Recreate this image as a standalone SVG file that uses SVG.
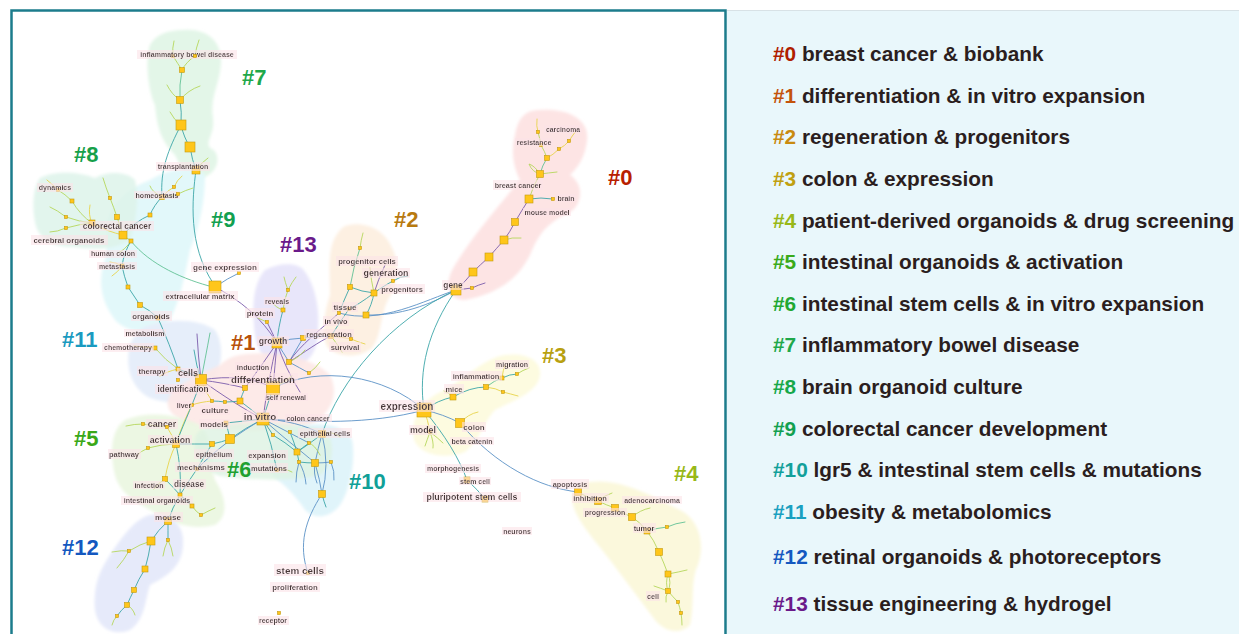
<svg xmlns="http://www.w3.org/2000/svg" width="1239" height="634" viewBox="0 0 1239 634">
<defs>
<style>
.e{fill:none;stroke-width:0.9;stroke-linecap:round}
.t{stroke:#3CA6A8}.b{stroke:#5B92C6}.p{stroke:#7C5CAC}.y{stroke:#E8D44C}.g{stroke:#B6D75C}.m{stroke:#62C295}
.nd rect{fill:#FFC61A;stroke:#C49A10;stroke-width:0.6}
.lb{font-family:"Liberation Sans",Arial,sans-serif;font-weight:bold;fill:#463838;text-anchor:middle;dominant-baseline:central;filter:url(#bg)}
.cl{font-family:"Liberation Sans",Arial,sans-serif;font-weight:bold;font-size:22px}
.lg{font-family:"Liberation Sans",Arial,sans-serif;font-weight:bold;font-size:20.8px;fill:#2B1E1E}
#hulls path{filter:url(#soft)}
</style>
<filter id="bg" x="-0.03" y="0" width="1.06" height="1"><feFlood flood-color="#FBE3E8" flood-opacity="0.6"/><feComposite in="SourceGraphic" operator="over"/></filter>
<filter id="soft" x="-0.1" y="-0.1" width="1.2" height="1.2"><feGaussianBlur stdDeviation="1.5"/></filter>
</defs>
<rect x="0" y="0" width="1239" height="634" fill="#FFFFFF"/>
<rect x="727" y="10" width="512" height="624" fill="#E9F7FB"/>
<path d="M727,10.5 H1239" stroke="#D8E2E6" stroke-width="1" fill="none"/>
<path d="M11.5,634 V10.5 H725.5 V634" fill="none" stroke="#1C7C8C" stroke-width="2.5"/>

<g id="hulls">
<path id="hull-7" fill="#E3F6E8" d="M183,30 C205,28 222,40 221,62 C220,85 210,95 213,118 C215,135 205,140 210,148 C222,152 220,175 200,178 C185,178 180,165 175,155 C160,140 157,125 155,105 C148,90 145,60 150,45 C155,35 168,30 183,30 Z"/>
<path id="hull-9" fill="#E2F8FA" d="M150,180 C170,168 195,165 205,175 C205,200 200,225 190,250 C185,275 180,300 170,320 C155,335 130,335 115,320 C100,300 98,280 105,260 C110,240 100,225 115,205 C125,192 135,186 150,180 Z"/>
<path id="hull-8" fill="#DDF3EA" fill-opacity="0.85" d="M40,178 C55,170 80,172 95,178 C105,172 125,170 135,180 C140,200 135,225 130,240 C115,250 95,250 75,247 C55,248 38,240 35,222 C32,205 33,188 40,178 Z"/>
<path id="hull-0" fill="#FDE4E4" d="M540,110 C565,108 590,118 587,140 C585,160 575,170 570,175 C585,185 582,205 570,212 C550,222 540,230 530,255 C515,285 490,295 465,300 C445,300 445,280 455,265 C470,240 495,210 520,180 C515,170 510,155 515,135 C518,118 525,110 540,110 Z"/>
<path id="hull-2" fill="#FDF0E2" d="M345,226 C365,220 385,230 392,248 C400,262 398,285 388,300 C380,315 382,335 372,348 C360,358 340,358 328,348 C320,335 325,310 330,295 C330,275 328,260 332,245 C335,235 340,229 345,226 Z"/>
<path id="hull-13" fill="#E8E6FA" d="M265,270 C280,262 300,262 305,272 C315,285 320,310 318,330 C318,350 310,365 290,368 C270,368 258,355 255,335 C252,310 252,285 265,270 Z"/>
<path id="hull-11" fill="#E6EEFA" d="M150,325 C175,318 200,320 215,330 C225,345 222,370 210,390 C195,405 170,405 150,398 C130,388 125,365 130,345 C135,333 140,328 150,325 Z"/>
<path id="hull-1" fill="#FDE8E6" fill-opacity="0.9" d="M240,355 C270,350 310,355 330,375 C340,395 330,415 310,425 C280,432 240,432 210,428 C185,425 165,415 168,400 C172,385 200,375 220,365 C228,358 234,356 240,355 Z"/>
<path id="hull-5" fill="#EAF6E0" fill-opacity="0.9" d="M125,420 C150,410 180,415 200,425 C215,440 210,465 215,480 C225,495 230,515 215,525 C195,530 175,525 160,515 C140,505 120,495 115,475 C110,455 110,430 125,420 Z"/>
<path id="hull-10" fill="#E0F4FA" d="M290,428 C320,420 345,425 352,440 C356,460 350,490 340,505 C330,518 315,520 305,510 C295,495 285,485 275,478 C265,468 268,448 275,438 C280,432 285,430 290,428 Z"/>
<path id="hull-6" fill="#DDF2E2" fill-opacity="0.8" d="M205,428 C240,420 290,422 325,430 C335,440 335,465 320,475 C290,482 250,480 220,476 C200,470 192,450 195,438 C197,432 200,430 205,428 Z"/>
<path id="hull-12" fill="#E6EAFA" d="M150,515 C170,512 185,525 183,545 C182,565 170,575 150,585 C145,600 145,620 130,630 C115,636 98,630 95,610 C93,585 100,570 110,555 C120,540 135,518 150,515 Z"/>
<path id="hull-3" fill="#FDFBE0" d="M505,355 C525,352 542,360 540,375 C538,392 515,400 495,410 C485,420 480,440 465,452 C445,460 420,455 414,440 C410,420 420,400 445,390 C465,378 485,358 505,355 Z"/>
<path id="hull-4" fill="#FBF8DC" d="M590,482 C620,478 650,495 680,510 C700,520 705,545 698,565 C690,580 695,605 690,625 C680,635 665,632 655,620 C640,600 625,580 610,560 C595,540 575,520 572,500 C572,488 580,483 590,482 Z"/>
</g>

<g id="connectors">
<path class="e g" d="M173,56 Q172,48 174,41"/><path class="e g" d="M195,56 Q196,48 199,40"/>
<path class="e g" d="M173,56 Q178,64 182,70"/><path class="e g" d="M195,56 Q186,62 182,70"/>
<path class="e m" d="M182,70 Q179,85 180,100"/><path class="e g" d="M180,100 Q172,95 167,85"/>
<path class="e g" d="M180,100 Q188,90 200,86"/><path class="e t" d="M180,100 Q182,112 181,125"/>
<path class="e g" d="M181,125 Q174,120 170,112"/><path class="e t" d="M181,125 Q184,138 190,147"/>
<path class="e t" d="M190,147 Q192,160 196,170"/><path class="e g" d="M196,170 Q202,162 208,158"/>
<path class="e t" d="M196,170 C192,200 188,245 213,283"/><path class="e t" d="M181,125 C168,150 160,170 162,197"/>
<path class="e y" d="M162,197 Q168,190 174,187"/><path class="e y" d="M174,187 Q177,180 182,176"/>
<path class="e g" d="M162,197 Q170,196 178,194"/><path class="e g" d="M178,194 Q186,190 193,188"/>
<path class="e g" d="M162,197 Q152,192 150,186"/><path class="e t" d="M162,197 Q154,205 150,215"/>
<path class="e t" d="M150,215 Q134,222 123,235"/>
<path class="e y" d="M58,190 Q52,184 47,180"/><path class="e g" d="M58,190 Q65,194 72,201"/>
<path class="e g" d="M72,201 Q80,215 92,223"/><path class="e g" d="M66,217 Q57,210 50,207"/>
<path class="e g" d="M66,217 Q80,222 92,223"/><path class="e g" d="M66,228 Q57,232 50,232"/>
<path class="e g" d="M66,228 Q80,224 92,223"/><path class="e y" d="M90,205 Q88,215 92,223"/>
<path class="e g" d="M110,198 Q106,188 103,178"/><path class="e g" d="M110,198 Q114,208 117,217"/>
<path class="e g" d="M117,217 Q120,226 123,235"/><path class="e y" d="M92,223 Q108,232 123,235"/>
<path class="e g" d="M123,235 Q127,238 131,241"/><path class="e g" d="M131,241 Q125,250 118,253"/>
<path class="e m" d="M131,241 C150,265 185,280 213,287"/><path class="e t" d="M131,241 Q124,252 122,266"/>
<path class="e y" d="M122,266 Q116,262 110,262"/><path class="e y" d="M122,266 Q118,272 112,276"/>
<path class="e t" d="M122,266 Q124,276 128,287"/><path class="e t" d="M128,287 Q134,296 140,305"/>
<path class="e t" d="M140,305 Q150,310 158,318"/><path class="e t" d="M158,318 Q170,345 178,369"/>
<path class="e y" d="M155,348 Q144,347 134,346"/><path class="e g" d="M155,348 Q165,360 178,369"/>
<path class="e t" d="M178,369 Q190,372 201,380"/><path class="e y" d="M178,369 Q165,372 160,376"/>
<path class="e p" d="M201,380 Q198,355 197,334"/><path class="e m" d="M201,380 Q205,360 210,333"/>
<path class="e t" d="M201,380 Q196,365 194,350"/>
<path class="e b" d="M215,287 Q228,278 239,273"/><path class="e p" d="M215,287 C240,300 262,318 277,343"/>
<path class="e g" d="M288,290 Q285,282 284,277"/><path class="e g" d="M288,290 Q292,282 296,277"/>
<path class="e g" d="M288,290 Q284,300 283,310"/><path class="e t" d="M283,310 Q278,328 277,343"/>
<path class="e g" d="M283,310 Q276,308 272,302"/><path class="e p" d="M267,322 Q272,332 277,343"/>
<path class="e g" d="M267,322 Q262,320 258,318"/><path class="e b" d="M277,343 Q290,338 303,338"/>
<path class="e b" d="M277,343 Q283,352 289,362"/><path class="e b" d="M289,362 Q296,350 303,338"/>
<path class="e b" d="M303,338 Q316,336 331,336"/><path class="e p" d="M289,362 C305,352 318,342 331,336"/>
<path class="e p" d="M277,343 Q262,365 245,388"/><path class="e p" d="M277,343 Q275,365 273,388"/>
<path class="e p" d="M277,343 Q268,380 263,419"/><path class="e p" d="M277,343 Q285,368 300,392"/>
<path class="e b" d="M289,362 Q300,368 309,373"/><path class="e g" d="M309,373 Q316,368 320,362"/>
<path class="e g" d="M289,362 Q300,357 305,350"/>
<path class="e g" d="M360,248 Q361,240 363,233"/><path class="e m" d="M360,248 Q353,268 350,287"/>
<path class="e t" d="M350,287 Q362,292 374,293"/><path class="e t" d="M350,287 Q344,300 339,313"/>
<path class="e t" d="M374,293 Q385,285 393,281"/><path class="e t" d="M393,281 Q400,276 408,276"/>
<path class="e g" d="M374,293 Q371,280 370,268"/><path class="e p" d="M374,293 Q378,280 385,265"/>
<path class="e t" d="M374,293 Q372,305 366,315"/><path class="e t" d="M374,293 Q358,305 349,309"/>
<path class="e b" d="M366,315 C400,316 430,305 456,290"/><path class="e b" d="M339,313 C380,325 425,300 456,290"/>
<path class="e t" d="M349,309 Q340,322 331,336"/><path class="e p" d="M339,313 C320,330 300,345 289,362"/>
<path class="e y" d="M331,336 Q342,337 351,339"/><path class="e y" d="M351,339 Q358,342 365,344"/>
<path class="e g" d="M331,336 Q338,345 342,352"/>
<path class="e y" d="M538,132 Q536,126 537,119"/><path class="e g" d="M538,132 Q540,139 541,145"/>
<path class="e g" d="M541,145 Q545,152 547,158"/><path class="e y" d="M569,141 Q572,136 576,131"/>
<path class="e y" d="M569,141 Q565,146 559,149"/><path class="e y" d="M559,149 Q553,155 547,158"/>
<path class="e m" d="M547,158 Q542,166 540,174"/><path class="e g" d="M540,174 Q532,172 529,164 Q535,166 540,174"/>
<path class="e g" d="M540,174 Q548,173 557,172"/><path class="e g" d="M540,174 Q533,186 529,199"/>
<path class="e t" d="M529,199 Q541,197 553,199"/><path class="e p" d="M529,199 Q522,210 515,222"/>
<path class="e p" d="M515,222 Q510,232 504,240"/><path class="e g" d="M504,240 Q512,237 521,238"/>
<path class="e p" d="M504,240 Q496,249 489,257"/><path class="e p" d="M489,257 Q480,265 473,272"/>
<path class="e p" d="M473,272 Q465,282 456,290"/><path class="e p" d="M456,290 Q464,289 472,288"/>
<path class="e p" d="M472,288 Q478,285 485,283"/>
<path class="e t" d="M456,290 C428,330 418,370 424,410"/><path class="e t" d="M456,290 C390,320 340,380 322,434"/>
<path class="e b" d="M424,410 C385,375 320,365 273,388"/><path class="e b" d="M424,410 C370,425 310,422 263,419"/>
<path class="e t" d="M424,410 Q438,400 453,397"/><path class="e t" d="M453,397 Q470,387 486,387"/>
<path class="e g" d="M453,397 Q448,392 444,391"/><path class="e m" d="M486,387 Q495,380 502,378"/>
<path class="e t" d="M502,378 Q510,374 517,374"/><path class="e g" d="M517,374 Q523,370 529,368"/>
<path class="e y" d="M502,378 Q503,370 505,365"/><path class="e y" d="M486,387 Q496,388 503,392"/>
<path class="e y" d="M503,392 Q511,394 518,396"/><path class="e b" d="M424,410 Q443,414 460,423"/>
<path class="e y" d="M460,423 Q468,414 478,412"/><path class="e y" d="M424,410 Q428,420 430,432"/>
<path class="e g" d="M430,432 Q427,440 425,446"/><path class="e g" d="M430,432 Q434,442 433,448"/>
<path class="e g" d="M430,432 Q438,438 443,443"/><path class="e t" d="M424,410 C445,435 460,460 467,480"/>
<path class="e t" d="M467,480 Q478,490 485,499"/><path class="e b" d="M460,423 C495,465 540,488 578,492"/>
<path class="e g" d="M578,492 Q588,498 598,501"/><path class="e g" d="M598,501 Q606,505 615,508"/>
<path class="e g" d="M598,501 Q605,495 612,493"/><path class="e g" d="M615,508 Q623,514 632,517"/>
<path class="e g" d="M632,517 Q640,510 650,508"/><path class="e g" d="M632,517 Q640,522 647,531"/>
<path class="e m" d="M647,531 Q657,528 667,527"/><path class="e m" d="M667,527 Q676,523 685,522"/>
<path class="e g" d="M647,531 Q654,540 659,552"/><path class="e g" d="M659,552 Q664,563 668,574"/>
<path class="e g" d="M668,574 Q679,572 687,570"/><path class="e g" d="M668,574 Q665,583 668,591"/>
<path class="e g" d="M668,574 Q672,583 668,591"/><path class="e g" d="M668,591 Q673,597 678,602"/>
<path class="e g" d="M678,602 Q680,608 681,613"/><path class="e g" d="M681,613 Q682,619 682,625"/>
<path class="e g" d="M668,591 Q660,588 654,586"/><path class="e g" d="M668,591 Q665,597 666,602"/>
<path class="e p" d="M201,380 C230,375 255,378 273,388"/><path class="e p" d="M201,380 C222,395 245,410 263,419"/>
<path class="e p" d="M201,380 Q225,383 245,388"/><path class="e t" d="M245,388 Q242,395 240,401"/>
<path class="e t" d="M240,401 Q252,410 263,419"/><path class="e t" d="M240,401 Q232,402 225,402"/>
<path class="e t" d="M225,402 Q218,401 212,401"/><path class="e y" d="M212,401 Q205,392 201,380"/>
<path class="e y" d="M192,405 Q200,402 212,401"/><path class="e t" d="M273,388 Q268,403 263,419"/>
<path class="e g" d="M273,388 Q285,382 292,376"/><path class="e t" d="M263,419 Q245,421 226,423"/>
<path class="e t" d="M263,419 Q245,428 230,439"/><path class="e t" d="M263,419 Q268,428 273,435"/>
<path class="e t" d="M273,435 Q285,442 297,452"/><path class="e b" d="M263,419 C285,420 305,425 322,434"/>
<path class="e b" d="M263,419 C280,435 300,450 315,463"/><path class="e b" d="M263,419 Q284,430 309,443"/>
<path class="e t" d="M263,419 Q272,445 277,470"/><path class="e t" d="M230,439 Q222,442 212,444"/>
<path class="e t" d="M212,444 Q205,455 197,469"/><path class="e t" d="M226,423 Q228,430 230,439"/>
<path class="e g" d="M143,424 Q134,424 126,426"/><path class="e g" d="M143,424 Q155,426 167,427"/>
<path class="e y" d="M176,444 Q172,435 167,427"/><path class="e g" d="M176,444 Q162,444 148,448"/>
<path class="e g" d="M148,448 Q141,451 136,456"/><path class="e y" d="M176,444 Q183,422 192,405"/>
<path class="e t" d="M176,444 C185,420 195,400 201,380"/><path class="e t" d="M176,444 Q195,444 212,444"/>
<path class="e y" d="M176,444 Q168,460 165,479"/><path class="e t" d="M176,444 Q182,470 180,495"/>
<path class="e g" d="M165,479 Q158,483 154,489"/><path class="e t" d="M197,469 Q188,482 180,495"/>
<path class="e b" d="M197,469 C215,450 240,432 263,419"/><path class="e t" d="M165,479 Q173,487 180,495"/>
<path class="e t" d="M180,495 Q186,500 192,506"/><path class="e g" d="M192,506 Q196,512 201,515"/>
<path class="e g" d="M201,515 Q208,511 215,508"/><path class="e t" d="M180,495 Q172,508 168,521"/>
<path class="e t" d="M168,521 Q158,530 151,541"/><path class="e t" d="M168,521 Q168,530 168,540"/>
<path class="e g" d="M168,540 Q164,548 163,556"/><path class="e g" d="M168,540 Q172,548 173,556"/>
<path class="e g" d="M151,541 Q140,544 129,551"/><path class="e g" d="M129,551 Q122,550 112,552"/>
<path class="e g" d="M129,551 Q124,560 117,568"/><path class="e t" d="M151,541 Q149,555 145,569"/>
<path class="e t" d="M145,569 Q138,580 134,590"/><path class="e t" d="M134,590 Q130,598 127,605"/>
<path class="e t" d="M127,605 Q121,610 117,616"/><path class="e g" d="M117,616 Q113,620 112,625"/>
<path class="e g" d="M127,605 Q133,608 135,615"/>
<path class="e t" d="M322,434 Q308,445 297,452"/><path class="e b" d="M322,434 Q318,448 315,463"/>
<path class="e b" d="M322,434 Q330,465 322,494"/><path class="e t" d="M309,443 Q302,448 297,452"/>
<path class="e t" d="M297,452 Q298,457 299,462"/><path class="e t" d="M299,462 Q307,463 315,463"/>
<path class="e b" d="M315,463 Q323,463 331,462"/><path class="e b" d="M315,463 Q320,480 322,494"/>
<path class="e b" d="M299,462 Q296,472 296,482"/><path class="e b" d="M299,462 Q305,472 306,484"/>
<path class="e b" d="M315,463 Q313,473 317,483"/><path class="e b" d="M331,462 Q335,472 334,480"/>
<path class="e g" d="M322,434 Q332,430 340,437"/><path class="e b" d="M322,494 C305,520 298,545 308,573"/>
<path class="e t" d="M322,494 Q324,502 326,507"/><path class="e g" d="M277,470 Q285,468 292,472"/>
<path class="e g" d="M309,443 Q315,445 320,455"/><path class="e t" d="M290,432 Q294,442 297,452"/>
</g>

<g id="clusters">
<text class="cl" x="242" y="85" fill="#1FA84A">#7</text>
<text class="cl" x="74" y="162" fill="#16A04A">#8</text>
<text class="cl" x="211" y="227" fill="#12A050">#9</text>
<text class="cl" x="280" y="252" fill="#6A1A8A">#13</text>
<text class="cl" x="394" y="227" fill="#B87A10">#2</text>
<text class="cl" x="608" y="185" fill="#B82000">#0</text>
<text class="cl" x="62" y="347" fill="#1A9AC0">#11</text>
<text class="cl" x="231" y="350" fill="#B8520C">#1</text>
<text class="cl" x="542" y="363" fill="#B8A010">#3</text>
<text class="cl" x="74" y="446" fill="#3AA818">#5</text>
<text class="cl" x="227" y="477" fill="#20A030">#6</text>
<text class="cl" x="349" y="489" fill="#10A098">#10</text>
<text class="cl" x="674" y="481" fill="#98B818">#4</text>
<text class="cl" x="62" y="555" fill="#1458C0">#12</text>
</g>

<g id="nodes">
<g id="n7a" class="nd"><rect x="171.5" y="54.5" width="3" height="3"/><text class="lb" x="187" y="54" font-size="7">inflammatory bowel disease</text></g>
<g id="n7b" class="nd"><rect x="193.5" y="54.5" width="3" height="3"/></g>
<g id="n7c" class="nd"><rect x="179.5" y="67.5" width="5" height="5"/></g>
<g id="n7d" class="nd"><rect x="176.5" y="96.5" width="7" height="7"/></g>
<g id="n7e" class="nd"><rect x="176" y="120" width="10" height="10"/></g>
<g id="n7f" class="nd"><rect x="185" y="142" width="10" height="10"/></g>
<g id="n7g" class="nd"><rect x="192" y="166" width="8" height="8"/><text class="lb" x="183" y="166" font-size="7">transplantation</text></g>
<g id="n9a" class="nd"><rect x="159.5" y="194.5" width="5" height="5"/><text class="lb" x="157" y="195" font-size="7">homeostasis</text></g>
<g id="n9b" class="nd"><rect x="172.5" y="185.5" width="3" height="3"/></g>
<g id="n9c" class="nd"><rect x="148" y="213" width="4" height="4"/></g>
<g id="n9d" class="nd"><rect x="176.5" y="192.5" width="3" height="3"/></g>
<g id="n8a" class="nd"><rect x="56.5" y="188.5" width="3" height="3"/><text class="lb" x="55" y="187" font-size="7">dynamics</text></g>
<g id="n8b" class="nd"><rect x="70" y="199" width="4" height="4"/></g>
<g id="n8c" class="nd"><rect x="64.5" y="215.5" width="3" height="3"/></g>
<g id="n8d" class="nd"><rect x="64.5" y="226.5" width="3" height="3"/><text class="lb" x="69" y="240" font-size="7.9">cerebral organoids</text></g>
<g id="n8e" class="nd"><rect x="89" y="220" width="6" height="6"/></g>
<g id="n8f" class="nd"><rect x="108.5" y="196.5" width="3" height="3"/></g>
<g id="n8g" class="nd"><rect x="114.5" y="214.5" width="5" height="5"/></g>
<g id="n8h" class="nd"><rect x="119" y="231" width="8" height="8"/><text class="lb" x="117" y="226" font-size="8.3">colorectal cancer</text></g>
<g id="n8i" class="nd"><rect x="129" y="239" width="4" height="4"/><text class="lb" x="113" y="254" font-size="7.1">human colon</text></g>
<g id="n9e" class="nd"><rect x="120" y="264" width="4" height="4"/><text class="lb" x="117" y="266" font-size="7">metastasis</text></g>
<g id="n9f" class="nd"><rect x="126" y="285" width="4" height="4"/></g>
<g id="n9g" class="nd"><rect x="137.5" y="302.5" width="5" height="5"/></g>
<g id="n9h" class="nd"><rect x="156" y="316" width="4" height="4"/><text class="lb" x="151" y="316" font-size="7.8">organoids</text></g>
<g id="n11m" class="nd"><text class="lb" x="145" y="333" font-size="7">metabolism</text></g>
<g id="n11a" class="nd"><rect x="153" y="346" width="4" height="4"/><text class="lb" x="128" y="347" font-size="7">chemotherapy</text></g>
<g id="n11b" class="nd"><rect x="176" y="367" width="4" height="4"/><text class="lb" x="152" y="371" font-size="7.5">therapy</text></g>
<g id="n11c" class="nd"><rect x="195.5" y="374.5" width="11" height="11"/><text class="lb" x="188" y="373" font-size="9.1">cells</text></g>
<g id="n11d" class="nd"><rect x="176.5" y="378.5" width="3" height="3"/><text class="lb" x="183" y="389" font-size="8.2">identification</text></g>
<g id="n9i" class="nd"><rect x="237.5" y="271.5" width="3" height="3"/><text class="lb" x="225" y="267" font-size="8.1">gene expression</text></g>
<g id="n9j" class="nd"><rect x="209" y="281" width="12" height="12"/><text class="lb" x="200" y="296" font-size="7.5">extracellular matrix</text></g>
<g id="n13a" class="nd"><rect x="286.5" y="288.5" width="3" height="3"/></g>
<g id="n13b" class="nd"><rect x="281" y="308" width="4" height="4"/><text class="lb" x="277" y="301" font-size="7">reveals</text></g>
<g id="n13c" class="nd"><rect x="265.5" y="320.5" width="3" height="3"/><text class="lb" x="260" y="313" font-size="7.9">protein</text></g>
<g id="n13d" class="nd"><rect x="272" y="338" width="10" height="10"/><text class="lb" x="273" y="341" font-size="8.6">growth</text></g>
<g id="n13e" class="nd"><rect x="300.5" y="335.5" width="5" height="5"/></g>
<g id="n13f" class="nd"><rect x="286.5" y="359.5" width="5" height="5"/></g>
<g id="n13g" class="nd"><rect x="307.5" y="371.5" width="3" height="3"/></g>
<g id="n1a" class="nd"><rect x="242.5" y="385.5" width="5" height="5"/><text class="lb" x="253" y="367" font-size="7.2">induction</text></g>
<g id="n1b" class="nd"><rect x="266.5" y="381.5" width="13" height="13"/><text class="lb" x="263" y="379" font-size="9.6">differentiation</text><text class="lb" x="286" y="397" font-size="7">self renewal</text></g>
<g id="n1c" class="nd"><rect x="237" y="398" width="6" height="6"/></g>
<g id="n1d" class="nd"><rect x="190.5" y="403.5" width="3" height="3"/><text class="lb" x="184" y="405" font-size="7">liver</text></g>
<g id="n1e" class="nd"><rect x="210.5" y="399.5" width="3" height="3"/><text class="lb" x="215" y="410" font-size="8.1">culture</text></g>
<g id="n1f" class="nd"><rect x="223.5" y="400.5" width="3" height="3"/></g>
<g id="n1g" class="nd"><rect x="257" y="413" width="12" height="12"/><text class="lb" x="260" y="416" font-size="9.8">in vitro</text></g>
<g id="n1h" class="nd"><rect x="224" y="421" width="4" height="4"/><text class="lb" x="214" y="424" font-size="7.9">models</text></g>
<g id="n1i" class="nd"><rect x="225.5" y="434.5" width="9" height="9"/></g>
<g id="n1j" class="nd"><rect x="271.5" y="433.5" width="3" height="3"/></g>
<g id="n5a" class="nd"><rect x="141.5" y="422.5" width="3" height="3"/><text class="lb" x="162" y="424" font-size="8.8">cancer</text></g>
<g id="n5k" class="nd"><rect x="165.5" y="425.5" width="3" height="3"/></g>
<g id="n5b" class="nd"><rect x="172.5" y="440.5" width="7" height="7"/><text class="lb" x="170" y="440" font-size="8.7">activation</text></g>
<g id="n5c" class="nd"><rect x="146.5" y="446.5" width="3" height="3"/><text class="lb" x="124" y="454" font-size="7.5">pathway</text></g>
<g id="n5d" class="nd"><rect x="209.5" y="441.5" width="5" height="5"/><text class="lb" x="214" y="454" font-size="7.3">epithelium</text></g>
<g id="n5e" class="nd"><rect x="195.5" y="467.5" width="3" height="3"/><text class="lb" x="201" y="467" font-size="7.9">mechanisms</text></g>
<g id="n5f" class="nd"><rect x="162.5" y="476.5" width="5" height="5"/><text class="lb" x="149" y="485" font-size="7">infection</text></g>
<g id="n5g" class="nd"><rect x="178" y="493" width="4" height="4"/><text class="lb" x="189" y="484" font-size="8.2">disease</text><text class="lb" x="157" y="500" font-size="7">intestinal organoids</text></g>
<g id="n5h" class="nd"><rect x="190" y="504" width="4" height="4"/></g>
<g id="n5i" class="nd"><rect x="199.5" y="513.5" width="3" height="3"/></g>
<g id="n5j" class="nd"><rect x="164.5" y="517.5" width="7" height="7"/><text class="lb" x="168" y="517" font-size="8.1">mouse</text></g>
<g id="n12a" class="nd"><rect x="147" y="537" width="8" height="8"/></g>
<g id="n12b" class="nd"><rect x="127.5" y="549.5" width="3" height="3"/></g>
<g id="n12c" class="nd"><rect x="166.5" y="538.5" width="3" height="3"/></g>
<g id="n12d" class="nd"><rect x="142" y="566" width="6" height="6"/></g>
<g id="n12e" class="nd"><rect x="131.5" y="587.5" width="5" height="5"/></g>
<g id="n12f" class="nd"><rect x="124.5" y="602.5" width="5" height="5"/></g>
<g id="n12g" class="nd"><rect x="115.5" y="614.5" width="3" height="3"/></g>
<g id="n6a" class="nd"><rect x="275.5" y="468.5" width="3" height="3"/><text class="lb" x="267" y="455" font-size="7.6">expansion</text><text class="lb" x="269" y="468" font-size="7.5">mutations</text></g>
<g id="n10h" class="nd"><rect x="288.5" y="430.5" width="3" height="3"/><text class="lb" x="308" y="418" font-size="7">colon cancer</text></g>
<g id="n10a" class="nd"><rect x="318.5" y="430.5" width="7" height="7"/><text class="lb" x="325" y="433" font-size="7.4">epithelial cells</text></g>
<g id="n10b" class="nd"><rect x="307.5" y="441.5" width="3" height="3"/></g>
<g id="n10c" class="nd"><rect x="294" y="449" width="6" height="6"/></g>
<g id="n10d" class="nd"><rect x="297.5" y="460.5" width="3" height="3"/></g>
<g id="n10e" class="nd"><rect x="311.5" y="459.5" width="7" height="7"/></g>
<g id="n10f" class="nd"><rect x="329.5" y="460.5" width="3" height="3"/></g>
<g id="n10g" class="nd"><rect x="318.5" y="490.5" width="7" height="7"/></g>
<g id="s1" class="nd"><rect x="306.5" y="571.5" width="3" height="3"/><text class="lb" x="300" y="570" font-size="9.9">stem cells</text><text class="lb" x="295" y="587" font-size="7.8">proliferation</text></g>
<g id="s2" class="nd"><rect x="277.5" y="611.5" width="3" height="3"/><text class="lb" x="273" y="620" font-size="7">receptor</text></g>
<g id="n2a" class="nd"><rect x="358.5" y="246.5" width="3" height="3"/><text class="lb" x="367" y="261" font-size="7.7">progenitor cells</text></g>
<g id="n2c" class="nd"><rect x="347.5" y="284.5" width="5" height="5"/></g>
<g id="n2d" class="nd"><rect x="371" y="290" width="6" height="6"/><text class="lb" x="386" y="273" font-size="8.8">generation</text></g>
<g id="n2b" class="nd"><rect x="391.5" y="279.5" width="3" height="3"/><text class="lb" x="402" y="289" font-size="7.5">progenitors</text></g>
<g id="n2e" class="nd"><rect x="347.5" y="307.5" width="3" height="3"/><text class="lb" x="345" y="307" font-size="8">tissue</text></g>
<g id="n2f" class="nd"><rect x="337.5" y="311.5" width="3" height="3"/><text class="lb" x="336" y="321" font-size="7.3">in vivo</text></g>
<g id="n2g" class="nd"><rect x="363" y="312" width="6" height="6"/></g>
<g id="n2h" class="nd"><rect x="328.5" y="333.5" width="5" height="5"/><text class="lb" x="329" y="334" font-size="7.5">regeneration</text></g>
<g id="n2i" class="nd"><rect x="349.5" y="337.5" width="3" height="3"/><text class="lb" x="345" y="347" font-size="7.6">survival</text></g>
<g id="n0a" class="nd"><rect x="536.5" y="130.5" width="3" height="3"/></g>
<g id="n0b" class="nd"><rect x="567.5" y="139.5" width="3" height="3"/><text class="lb" x="563" y="129" font-size="6.8">carcinoma</text></g>
<g id="n0c" class="nd"><rect x="539.5" y="143.5" width="3" height="3"/><text class="lb" x="534" y="142" font-size="7">resistance</text></g>
<g id="n0d" class="nd"><rect x="557.5" y="147.5" width="3" height="3"/></g>
<g id="n0e" class="nd"><rect x="544.5" y="155.5" width="5" height="5"/></g>
<g id="n0f" class="nd"><rect x="536.5" y="170.5" width="7" height="7"/></g>
<g id="n0g" class="nd"><rect x="525" y="195" width="8" height="8"/><text class="lb" x="518" y="185" font-size="7.2">breast cancer</text></g>
<g id="n0h" class="nd"><rect x="551.5" y="197.5" width="3" height="3"/><text class="lb" x="566" y="198" font-size="7">brain</text></g>
<g id="n0i" class="nd"><rect x="511.5" y="218.5" width="7" height="7"/><text class="lb" x="547" y="212" font-size="7">mouse model</text></g>
<g id="n0j" class="nd"><rect x="500" y="236" width="8" height="8"/></g>
<g id="n0k" class="nd"><rect x="485" y="253" width="8" height="8"/></g>
<g id="n0l" class="nd"><rect x="469" y="268" width="8" height="8"/></g>
<g id="n0m" class="nd"><rect x="451" y="285" width="10" height="10"/><text class="lb" x="453" y="285" font-size="8.3">gene</text></g>
<g id="n0n" class="nd"><rect x="470.5" y="286.5" width="3" height="3"/></g>
<g id="n3a" class="nd"><rect x="515.5" y="372.5" width="3" height="3"/><text class="lb" x="512" y="364" font-size="7">migration</text></g>
<g id="n3b" class="nd"><rect x="500" y="376" width="4" height="4"/><text class="lb" x="476" y="376" font-size="7.5">inflammation</text></g>
<g id="n3c" class="nd"><rect x="483.5" y="384.5" width="5" height="5"/></g>
<g id="n3d" class="nd"><rect x="501.5" y="390.5" width="3" height="3"/></g>
<g id="n3e" class="nd"><rect x="450" y="394" width="6" height="6"/><text class="lb" x="454" y="389" font-size="7.5">mice</text></g>
<g id="n3f" class="nd"><rect x="417" y="403" width="14" height="14"/><text class="lb" x="407" y="406" font-size="10">expression</text></g>
<g id="n3g" class="nd"><rect x="455.5" y="418.5" width="9" height="9"/><text class="lb" x="474" y="427" font-size="8">colon</text><text class="lb" x="472" y="441" font-size="7">beta catenin</text></g>
<g id="n3h" class="nd"><rect x="428.5" y="430.5" width="3" height="3"/><text class="lb" x="423" y="430" font-size="8.8">model</text></g>
<g id="n3m" class="nd"><text class="lb" x="453" y="468" font-size="7">morphogenesis</text></g>
<g id="n3i" class="nd"><rect x="464" y="477" width="6" height="6"/><text class="lb" x="475" y="481" font-size="7">stem cell</text></g>
<g id="n3j" class="nd"><rect x="482" y="496" width="6" height="6"/><text class="lb" x="472" y="497" font-size="8.8">pluripotent stem cells</text></g>
<g id="n3n" class="nd"><text class="lb" x="517" y="531" font-size="7">neurons</text></g>
<g id="n4a" class="nd"><rect x="574.5" y="488.5" width="7" height="7"/><text class="lb" x="570" y="484" font-size="7.3">apoptosis</text></g>
<g id="n4b" class="nd"><rect x="594.5" y="497.5" width="7" height="7"/><text class="lb" x="590" y="498" font-size="7.5">inhibition</text></g>
<g id="n4c" class="nd"><rect x="611.5" y="504.5" width="7" height="7"/><text class="lb" x="605" y="512" font-size="7">progression</text></g>
<g id="n4d" class="nd"><rect x="628.5" y="513.5" width="7" height="7"/><text class="lb" x="652" y="500" font-size="7">adenocarcinoma</text></g>
<g id="n4e" class="nd"><rect x="665.5" y="525.5" width="3" height="3"/></g>
<g id="n4f" class="nd"><rect x="644" y="528" width="6" height="6"/><text class="lb" x="644" y="528" font-size="7.3">tumor</text></g>
<g id="n4g" class="nd"><rect x="655.5" y="548.5" width="7" height="7"/></g>
<g id="n4h" class="nd"><rect x="665" y="571" width="6" height="6"/></g>
<g id="n4i" class="nd"><rect x="665.5" y="588.5" width="5" height="5"/><text class="lb" x="653" y="596" font-size="7.3">cell</text></g>
<g id="n4j" class="nd"><rect x="676.5" y="600.5" width="3" height="3"/></g>
<g id="n4k" class="nd"><rect x="679.5" y="611.5" width="3" height="3"/></g>
</g>

<g id="legend">
<text class="lg" x="773" y="61"><tspan fill="#B01E00">#0</tspan> breast cancer &amp; biobank</text>
<text class="lg" x="773" y="103"><tspan fill="#C4540C">#1</tspan> differentiation &amp; in vitro expansion</text>
<text class="lg" x="773" y="144"><tspan fill="#C98A10">#2</tspan> regeneration &amp; progenitors</text>
<text class="lg" x="773" y="186" font-size="23"><tspan fill="#C0A010">#3</tspan> colon &amp; expression</text>
<text class="lg" x="773" y="228"><tspan fill="#98B818">#4</tspan> patient-derived organoids &amp; drug screening</text>
<text class="lg" x="773" y="269"><tspan fill="#3AAA1A">#5</tspan> intestinal organoids &amp; activation</text>
<text class="lg" x="773" y="311"><tspan fill="#22A832">#6</tspan> intestinal stem cells &amp; in vitro expansion</text>
<text class="lg" x="773" y="352"><tspan fill="#1FA84A">#7</tspan> inflammatory bowel disease</text>
<text class="lg" x="773" y="394"><tspan fill="#16A84A">#8</tspan> brain organoid culture</text>
<text class="lg" x="773" y="436"><tspan fill="#12A050">#9</tspan> colorectal cancer development</text>
<text class="lg" x="773" y="477"><tspan fill="#12A09A">#10</tspan> lgr5 &amp; intestinal stem cells &amp; mutations</text>
<text class="lg" x="773" y="519"><tspan fill="#1AA0C0">#11</tspan> obesity &amp; metabolomics</text>
<text class="lg" x="773" y="564"><tspan fill="#1458C0">#12</tspan> retinal organoids &amp; photoreceptors</text>
<text class="lg" x="773" y="611"><tspan fill="#6A1A8A">#13</tspan> tissue engineering &amp; hydrogel</text>
</g>
</svg>
